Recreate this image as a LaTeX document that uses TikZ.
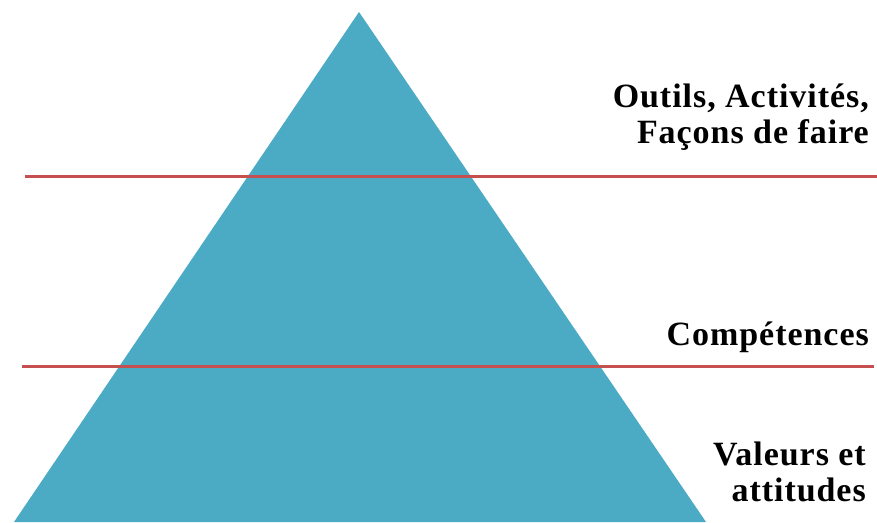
\documentclass[tikz,border=0pt]{standalone}
\usepackage{fontspec}
\setmainfont{Liberation Serif}
\newfontfamily\lblfont[LetterSpace=2.8]{Liberation Serif}
\definecolor{pyr}{RGB}{75,170,196}
\definecolor{sep}{RGB}{198,80,80}
\begin{document}
\begin{tikzpicture}[x=1pt,y=-1pt,
  lbl/.style={font=\lblfont\fontsize{34}{36}\selectfont\bfseries, inner sep=0pt, anchor=base east},
  sepline/.style={draw=sep, line width=3.5pt}]
\useasboundingbox (0,0) rectangle (877,522);
\fill[white] (0,0) rectangle (877,522);
\coordinate (apex) at (359,12);
\coordinate (bl) at (14,522);
\coordinate (br) at (706,522);
\fill[pyr] (apex) -- (br) -- (bl) -- cycle;
\coordinate (l1a) at (25,176.5);
\coordinate (l1b) at (877,176.5);
\coordinate (l2a) at (22,366.5);
\coordinate (l2b) at (874,366.5);
\draw[sepline] (l1a) -- (l1b);
\draw[sepline] (l2a) -- (l2b);
\node[lbl] (t1) at (869,107) {Outils, Activités,};
\node[lbl] (t2) at (869,143) {Façons de faire};
\node[lbl] (t3) at (869,345) {Compétences};
\node[lbl] (t4) at (866,465) {Valeurs et};
\node[lbl] (t5) at (866,501) {attitudes};
\end{tikzpicture}
\end{document}
